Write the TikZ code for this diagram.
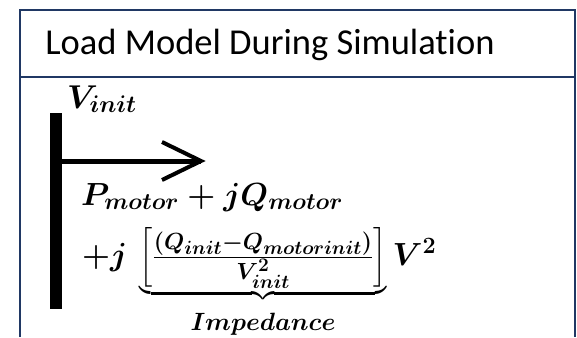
\RequirePackage{fix-cm}
\documentclass[tikz,border=0pt]{standalone}
\usepackage{amsmath}
\usepackage[no-math]{fontspec}
\newfontfamily\titlefont[Ligatures=NoCommon]{Carlito}
\renewcommand\defaultscriptratio{.73}
\renewcommand\defaultscriptscriptratio{.6}
\definecolor{navy}{RGB}{32,56,100}
\newcommand\bracketstrut{\vcenter{\hbox{\rule{0pt}{64pt}}}}
\begin{document}
\begin{tikzpicture}[x=1pt,y=-1pt,
  frame/.style={draw=navy,line width=2.5pt},
  busbar/.style={fill=black,inner sep=0pt,minimum width=12pt,minimum height=196pt},
  mathtxt/.style={inner sep=0pt,anchor=base west,font=\fontsize{32}{38}\selectfont\boldmath},
  heading/.style={inner sep=0pt,anchor=base,font=\titlefont\fontsize{36.5}{42}\selectfont}]
\useasboundingbox (0,0) rectangle (577,337);
\fill[white] (0,0) rectangle (577,337);
\draw[frame] (20,337) -- (20,10) -- (575,10) -- (575,337);
\draw[frame] (20,77) -- (575,77);
\node[heading] (title) at (270,55) {Load Model During Simulation};
\node[busbar] (bus) at (56,211) {};
\coordinate (tip) at (201,161);
\draw[line width=5pt] (bus.east |- tip) -- (tip);
\draw[line width=4pt,line join=miter] (tip) ++(-39,-19) -- (tip) -- ++(-39,19);
\node[mathtxt,font=\fontsize{33}{40}\selectfont\boldmath] (vinit) at (67,108) {$V_{init}$};
\node[mathtxt] (load) at (81,205) {$P_{motor}+jQ_{motor}$};
\node[mathtxt] (imp) at (82,265) {$+j\,\underbrace{\left[\bracketstrut\tfrac{(Q_{init}-Q_{motorinit})\rule[-4pt]{0pt}{4pt}}{\rule{0pt}{21pt}V_{init}^{2}}\right]}_{\mbox{\fontsize{25}{30}\selectfont\rule{0pt}{28pt}$Impedance$}}V^{2}$};
\end{tikzpicture}
\end{document}
